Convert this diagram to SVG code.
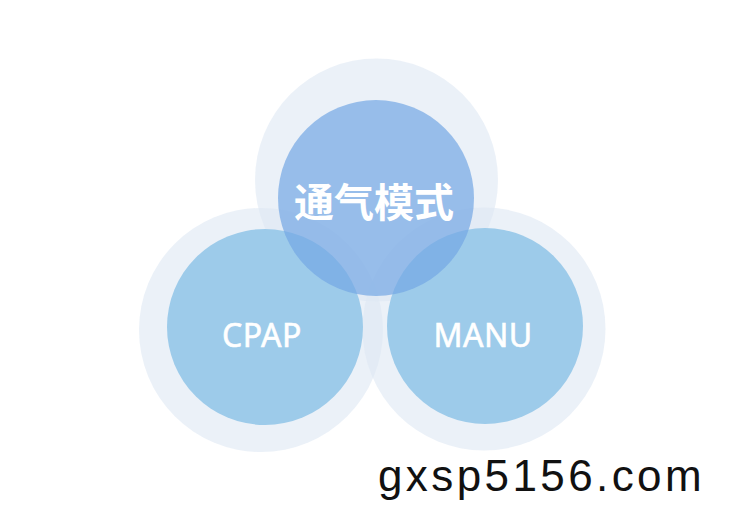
<svg xmlns="http://www.w3.org/2000/svg" width="750" height="520" viewBox="0 0 750 520">
  <style>
    .halo { fill: #dde8f4; fill-opacity: 0.6; }
    .inner-bottom { fill: #9dcbea; }
    .inner-top { fill: #74a7e4; fill-opacity: 0.7; }
    .label { fill: #ffffff; stroke: #ffffff; stroke-width: 0.6px; font-family: "Noto Sans", "Open Sans", sans-serif; font-size: 32px; font-weight: 400; text-anchor: middle; letter-spacing: 0.5px; }
    .label-cjk { fill: #ffffff; font-family: "Noto Sans CJK SC", "Noto Sans", sans-serif; font-size: 40px; font-weight: 700; text-anchor: middle; }
    .watermark { fill: #111111; font-family: "Liberation Sans", Arial, sans-serif; font-size: 44px; letter-spacing: 3.4px; }
  </style>
  <rect width="750" height="520" fill="#ffffff"/>
  <g id="halos">
    <circle class="halo" cx="376.5" cy="180" r="121.5"/>
    <circle class="halo" cx="261" cy="330" r="122"/>
    <circle class="halo" cx="484" cy="329" r="121.5"/>
  </g>
  <g id="node-cpap">
    <circle class="inner-bottom" cx="265" cy="327" r="98"/>
    <text class="label" x="262" y="347">CPAP</text>
  </g>
  <g id="node-manu">
    <circle class="inner-bottom" cx="485" cy="326" r="98"/>
    <text class="label" x="483" y="347">MANU</text>
  </g>
  <g id="node-mode">
    <circle class="inner-top" cx="376" cy="198" r="98"/>
    <text class="label-cjk" x="374" y="217">通气模式</text>
  </g>
  <g id="connectors"/>
  <text class="watermark" x="378" y="491">gxsp5156.com</text>
</svg>
